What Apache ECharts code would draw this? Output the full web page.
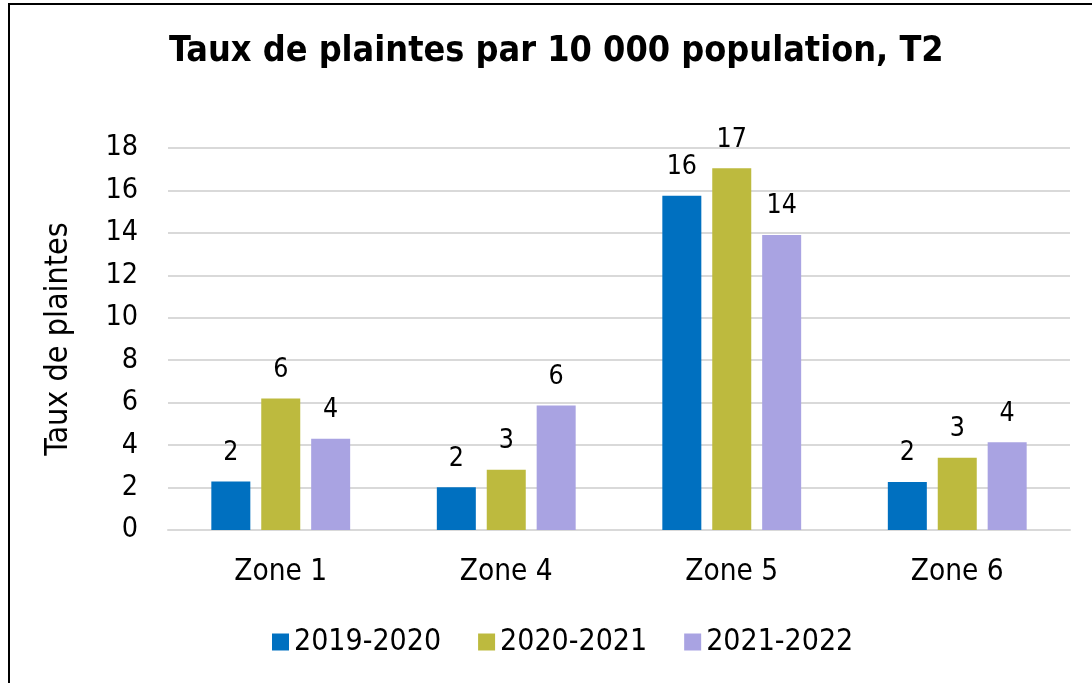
<!DOCTYPE html>
<html>
<head>
<meta charset="utf-8">
<script src="https://cdn.jsdelivr.net/npm/echarts@6/dist/echarts.min.js"></script>
<style>
html,body{margin:0;padding:0;background:#fff;}
#c{width:1092px;height:683px;}
</style>
</head>
<body>
<div id="c"></div>
<script>
var categories = ['Zone 1', 'Zone 4', 'Zone 5', 'Zone 6'];
var seriesNames = ['2019-2020', '2020-2021', '2021-2022'];
var s2019 = [2.28, 2.02, 15.75, 2.26];
var s2020 = [6.2, 2.84, 17.04, 3.4];
var s2021 = [4.3, 5.87, 13.9, 4.14];
var yTicks = [0, 2, 4, 6, 8, 10, 12, 14, 16, 18];

var FONT = '"DejaVu Sans Condensed", "DejaVu Sans", sans-serif';
var colors = ['#0070C0', '#BDBA3E', '#A9A3E2'];
var chart = echarts.init(document.getElementById('c'));
function mk(name, data, color) {
  return {
    name: name, type: 'bar', data: data, barWidth: 39, barGap: '28%',
    itemStyle: { color: color },
    label: { show: true, position: 'top', distance: 15, color: '#000',
      fontFamily: FONT, fontSize: 26.5,
      formatter: function (p) { return Math.round(p.value); } }
  };
}
chart.setOption({
  animation: false,
  color: colors,
  title: {
    text: 'Taux de plaintes par 10 000 population, T2',
    left: 164, top: 29,
    textStyle: { fontFamily: FONT, fontSize: 35.7, fontWeight: 'bold', color: '#000' }
  },
  graphic: [{
    type: 'rect', shape: { x: 9, y: 4, width: 1200, height: 800 },
    style: { fill: 'none', stroke: '#000', lineWidth: 2 }, silent: true
  }],
  legend: {
    bottom: 21, left: 267, itemWidth: 17, itemHeight: 17, itemGap: 37,
    icon: 'rect',
    textStyle: { fontFamily: FONT, fontSize: 30, color: '#000' },
    data: seriesNames
  },
  grid: { left: 168, right: 22, top: 148, bottom: 153 },
  xAxis: {
    type: 'category', data: categories,
    axisLine: { lineStyle: { color: '#d9d9d9', width: 2 } },
    axisTick: { show: false },
    axisLabel: { fontFamily: FONT, fontSize: 29.5, color: '#000', margin: 27 }
  },
  yAxis: {
    type: 'value', min: yTicks[0], max: yTicks[yTicks.length - 1], interval: 2,
    name: 'Taux de plaintes', nameLocation: 'middle', nameGap: 93,
    nameTextStyle: { fontFamily: FONT, fontSize: 32, color: '#000' },
    axisLine: { show: false }, axisTick: { show: false },
    splitLine: { lineStyle: { color: '#d9d9d9', width: 2 } },
    axisLabel: { fontFamily: FONT, fontSize: 28.5, color: '#000', margin: 30 }
  },
  series: [mk(seriesNames[0], s2019, colors[0]), mk(seriesNames[1], s2020, colors[1]), mk(seriesNames[2], s2021, colors[2])]
});
</script>
</body>
</html>
